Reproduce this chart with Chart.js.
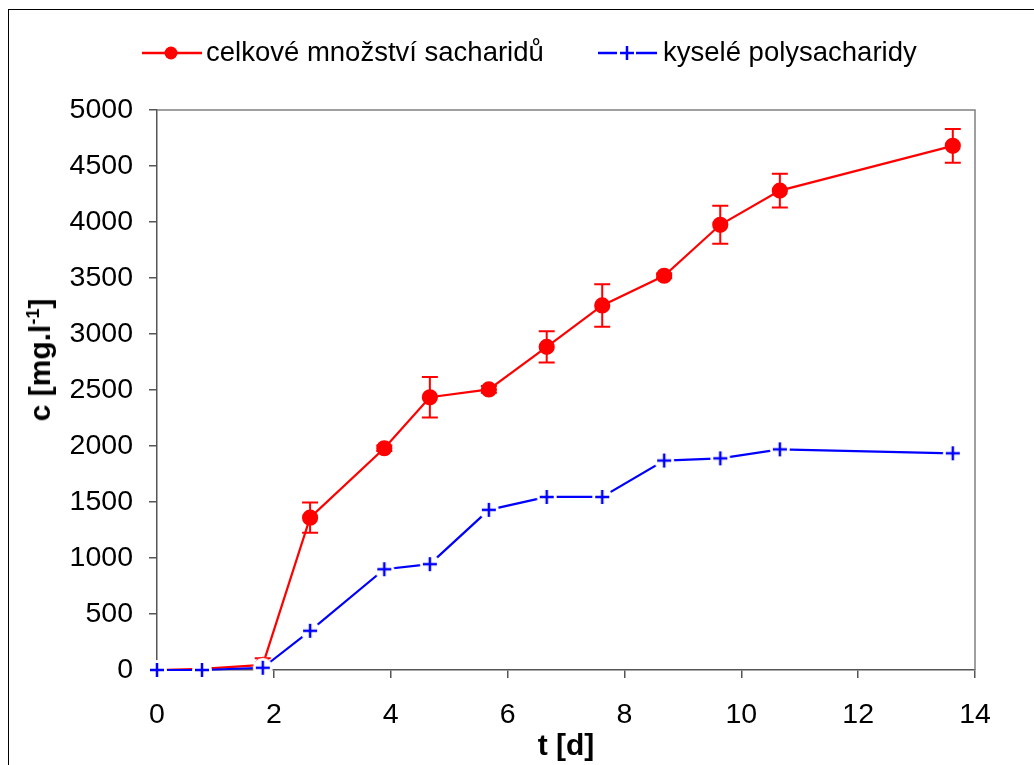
<!DOCTYPE html>
<html>
<head>
<meta charset="utf-8">
<script src="https://cdn.jsdelivr.net/npm/chart.js@4/dist/chart.umd.min.js"></script>
<style>
  html, body { margin:0; padding:0; background:#fff; }
  #wrap { position:relative; width:1034px; height:765px; overflow:hidden; font-family:"Liberation Sans", Arial, sans-serif; }
  #frame { position:absolute; left:8px; top:9px; width:1100px; height:900px; border:1.5px solid #000; box-sizing:border-box; }
  #c { position:absolute; left:0; top:0; }
  .leg { position:absolute; height:40px; line-height:40px; font-size:27.5px; color:#000; white-space:nowrap; }
  .sym { position:absolute; }
  #ytitle { position:absolute; left:40px; top:360px; transform:translate(-50%,-50%) rotate(-90deg); font-weight:bold; font-size:30px; white-space:nowrap; color:#000; }
  #ytitle sup { font-size:18px; }
</style>
</head>
<body>
<div id="wrap">
  <div id="frame"></div>
  <canvas id="c" width="1034" height="765"></canvas>
  <svg class="sym" style="left:140px; top:43px;" width="64" height="20">
    <line x1="2" y1="10" x2="62" y2="10" stroke="#ff0000" stroke-width="2.5"/>
    <circle cx="31" cy="10" r="6.5" fill="#ff0000"/>
  </svg>
  <div class="leg" style="left:206px; top:32px;">celkové množství sacharidů</div>
  <svg class="sym" style="left:596px; top:43px;" width="64" height="20">
    <line x1="2" y1="10" x2="21" y2="10" stroke="#0000ff" stroke-width="2.5"/>
    <line x1="40" y1="10" x2="61" y2="10" stroke="#0000ff" stroke-width="2.5"/>
    <line x1="24" y1="10" x2="38" y2="10" stroke="#0000ff" stroke-width="2.5"/>
    <line x1="31" y1="3" x2="31" y2="17" stroke="#0000ff" stroke-width="2.5"/>
  </svg>
  <div class="leg" style="left:663px; top:32px;">kyselé polysacharidy</div>
  <div id="ytitle">c [mg.l<sup>-1</sup>]</div>
</div>
<script>
// ---- data ----
const days      = [0, 0.77, 1.81, 2.62, 3.89, 4.67, 5.68, 6.67, 7.62, 8.68, 9.64, 10.66, 13.62];
const totalSac  = [0, 10, 45, 1360, 1980, 2435, 2505, 2885, 3255, 3520, 3975, 4280, 4680];
const totalErr  = [0, 0, 60, 135, 25, 180, 30, 140, 190, 20, 170, 150, 150];
const acidPoly  = [0, 0, 20, 350, 900, 945, 1430, 1545, 1545, 1870, 1890, 1970, 1935];
const xTicks    = [0, 2, 4, 6, 8, 10, 12, 14];
const yTicks    = [0, 500, 1000, 1500, 2000, 2500, 3000, 3500, 4000, 4500, 5000];
const seriesNames = ['celkové množství sacharidů', 'kyselé polysacharidy'];
const xTitle = 't [d]';

// blue "+" marker with white background (gap in line like the original)
function plusMarker() {
  const cv = document.createElement('canvas');
  cv.width = 24; cv.height = 24;
  const g = cv.getContext('2d');
  g.fillStyle = '#fff';
  g.beginPath(); g.arc(12, 12, 10, 0, Math.PI * 2); g.fill();
  g.strokeStyle = '#0000ff'; g.lineWidth = 2.5;
  g.beginPath(); g.moveTo(5, 12); g.lineTo(19, 12); g.moveTo(12, 5); g.lineTo(12, 19); g.stroke();
  return cv;
}

const errorBars = {
  id: 'errorBars',
  afterDatasetDraw(chart, args) {
    if (args.index !== 0) return;
    const ds = chart.data.datasets[0];
    const errs = ds.errors;
    const xs = chart.scales.x, ys = chart.scales.y;
    const ctx = chart.ctx;
    ctx.save();
    ctx.strokeStyle = '#ff0000';
    ctx.lineWidth = 2;
    ds.data.forEach((p, i) => {
      const e = errs[i];
      if (!e) return;
      const px = xs.getPixelForValue(p.x);
      const top = ys.getPixelForValue(p.y + e);
      const bot = ys.getPixelForValue(Math.max(0, p.y - e));
      ctx.beginPath();
      ctx.moveTo(px, top); ctx.lineTo(px, bot);
      ctx.moveTo(px - 8, top); ctx.lineTo(px + 8, top);
      if (p.y - e > 0) { ctx.moveTo(px - 8, bot); ctx.lineTo(px + 8, bot); }
      ctx.stroke();
    });
    ctx.restore();
  }
};

const frameBox = {
  id: 'frameBox',
  afterDraw(chart) {
    const a = chart.chartArea, ctx = chart.ctx;
    ctx.save();
    ctx.strokeStyle = '#808080';
    ctx.lineWidth = 1.5;
    ctx.beginPath();
    ctx.moveTo(a.left, a.top); ctx.lineTo(a.right, a.top); ctx.lineTo(a.right, a.bottom);
    ctx.stroke();
    ctx.restore();
  }
};

const tickFont = { family: 'Liberation Sans', size: 28.5 };

new Chart(document.getElementById('c'), {
  type: 'scatter',
  data: {
    datasets: [
      {
        label: seriesNames[0],
        data: days.map((d, i) => ({ x: d, y: totalSac[i] })),
        errors: totalErr,
        showLine: true,
        clip: false,
        borderColor: '#ff0000',
        backgroundColor: '#ff0000',
        borderWidth: 2.2,
        pointRadius: 7,
        pointHoverRadius: 7,
        pointStyle: 'circle',
        order: 2
      },
      {
        label: seriesNames[1],
        data: days.map((d, i) => ({ x: d, y: acidPoly[i] })),
        showLine: true,
        clip: false,
        borderColor: '#0000ff',
        backgroundColor: '#0000ff',
        borderWidth: 2.2,
        pointRadius: 10,
        pointStyle: plusMarker(),
        order: 1
      }
    ]
  },
  options: {
    responsive: false,
    animation: false,
    events: [],
    layout: { padding: { left: 0, top: 110, right: 59, bottom: 0 } },
    plugins: { legend: { display: false }, tooltip: { enabled: false } },
    scales: {
      x: {
        type: 'linear', min: 0, max: 14,
        afterBuildTicks: s => { s.ticks = xTicks.map(v => ({ value: v })); },
        afterFit: s => { s.height = 95; },
        ticks: { font: tickFont, color: '#000', padding: 20, callback: v => String(v), maxRotation: 0 },
        grid: { drawOnChartArea: false, drawTicks: true, tickLength: 8, color: '#555', lineWidth: 1.5 },
        border: { color: '#555', width: 1.5 },
        title: { display: true, text: xTitle, font: { family: 'Liberation Sans', size: 30, weight: 'bold' }, color: '#000', padding: { top: 0, bottom: 0 } }
      },
      y: {
        type: 'linear', min: 0, max: 5000,
        afterBuildTicks: s => { s.ticks = yTicks.map(v => ({ value: v })); },
        afterFit: s => { s.width = 157; },
        ticks: { font: tickFont, color: '#000', padding: 16, callback: v => String(v) },
        grid: { drawOnChartArea: false, drawTicks: true, tickLength: 8, color: '#555', lineWidth: 1.5 },
        border: { color: '#555', width: 1.5 }
      }
    }
  },
  plugins: [errorBars, frameBox]
});
</script>
</body>
</html>
